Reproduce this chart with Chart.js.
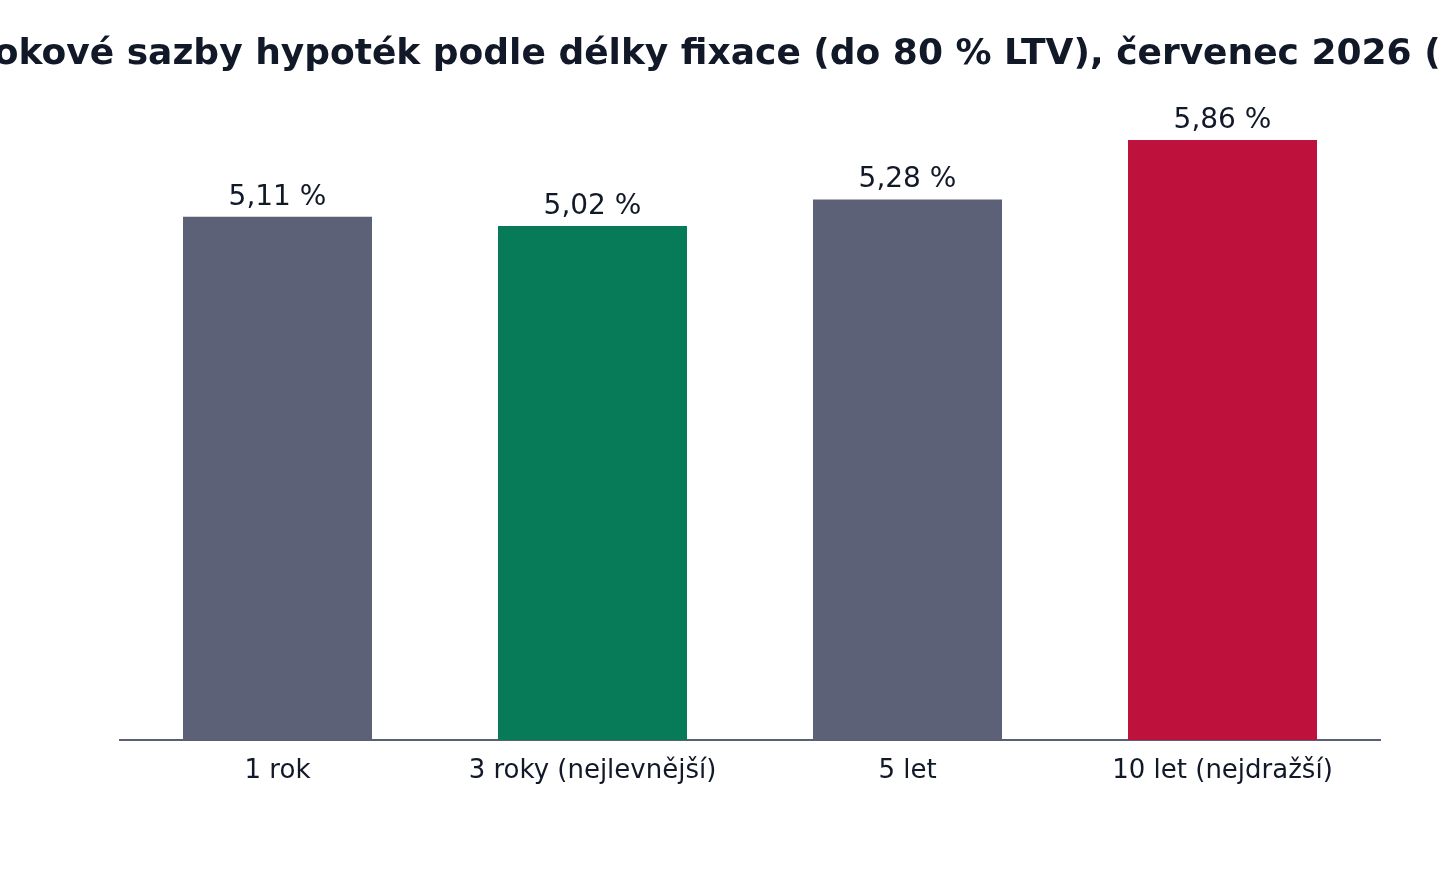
<!DOCTYPE html>
<html lang="cs">
<head>
<meta charset="utf-8">
<title>Úrokové sazby hypoték</title>
<script src="https://cdn.jsdelivr.net/npm/chart.js@4.4.1/dist/chart.umd.min.js"></script>
<style>
  html, body { margin: 0; padding: 0; background: #fff; font-family: "DejaVu Sans", sans-serif; }
  #wrap { width: 1440px; height: 880px; }
</style>
</head>
<body>
<div id="wrap"><canvas id="rates"></canvas></div>
<script>
// data
const categories = ["1 rok", "3 roky (nejlevnější)", "5 let", "10 let (nejdražší)"];
const rates = [5.11, 5.02, 5.28, 5.86];
const barColors = ["#5c6178", "#077a57", "#5c6178", "#be123c"];
const chartTitle = "Úrokové sazby hypoték podle délky fixace (do 80 % LTV), červenec 2026 (%)";

const FONT = '"DejaVu Sans", sans-serif';
const fmt = v => v.toFixed(2).replace(".", ",") + " %";

// title and value labels drawn by hand
const drawExtras = {
  id: "drawExtras",
  afterDatasetsDraw(chart) {
    const ctx = chart.ctx;
    ctx.save();
    ctx.fillStyle = "#111827";
    ctx.textAlign = "center";
    ctx.textBaseline = "alphabetic";
    ctx.font = "bold 36px " + FONT;
    ctx.fillText(chartTitle, chart.width / 2, 64);

    ctx.font = "28px " + FONT;
    chart.getDatasetMeta(0).data.forEach((bar, i) => {
      ctx.fillText(fmt(rates[i]), bar.x, bar.y - 12);
    });
    ctx.restore();
  }
};

function draw() {
  Chart.defaults.font.family = FONT;
  new Chart(document.getElementById("rates"), {
    type: "bar",
    data: {
      labels: categories,
      datasets: [{
        data: rates,
        backgroundColor: barColors,
        categoryPercentage: 1,
        barPercentage: 0.6
      }]
    },
    options: {
      responsive: true,
      maintainAspectRatio: false,
      animation: false,
      layout: { padding: { top: 80, left: 120, right: 60, bottom: 0 } },
      plugins: { legend: { display: false }, tooltip: { enabled: false } },
      scales: {
        x: {
          grid: { display: false, drawTicks: false },
          border: { display: true, color: "#5a5f73", width: 2 },
          ticks: { color: "#111827", padding: 16, font: { family: FONT, size: 26 } },
          afterFit: s => { s.height = 140; }
        },
        y: { display: false, min: 0, max: 5.86 * 1.1 }
      }
    },
    plugins: [drawExtras]
  });
}

Promise.all([
  document.fonts.load('bold 36px "DejaVu Sans"'),
  document.fonts.load('28px "DejaVu Sans"')
]).then(draw, draw);
</script>
</body>
</html>
